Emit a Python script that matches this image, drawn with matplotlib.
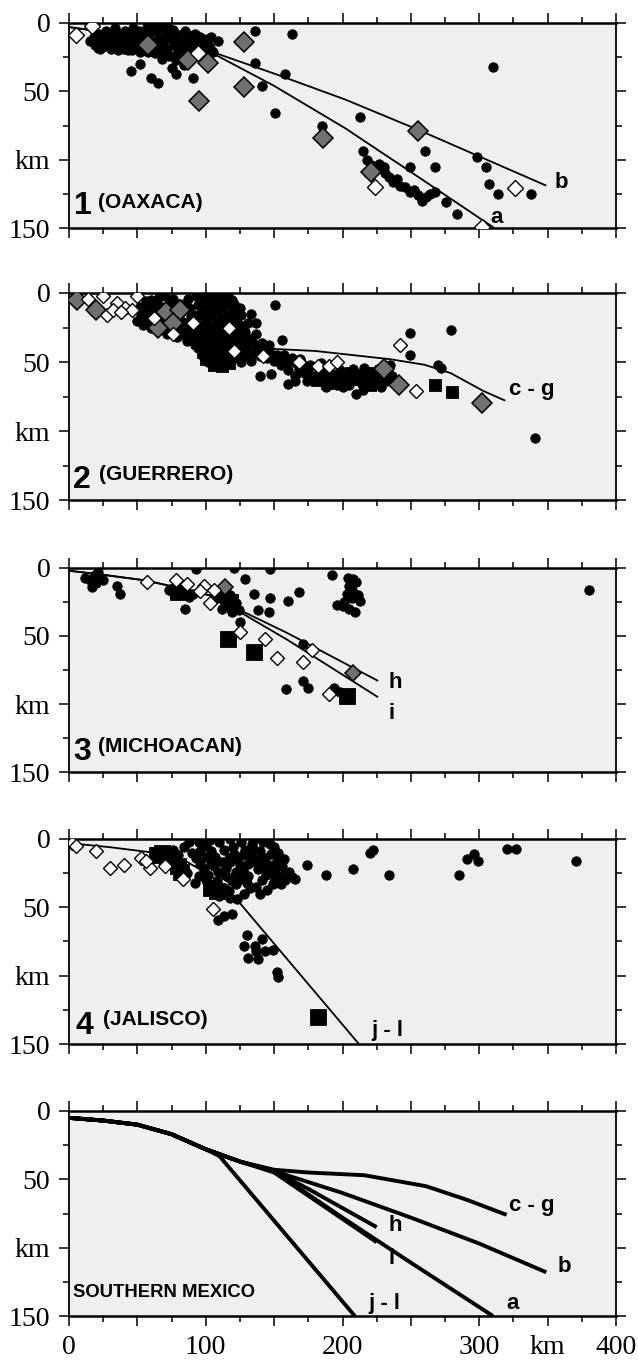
import matplotlib
matplotlib.use("Agg")
import matplotlib.pyplot as plt
from matplotlib.ticker import MultipleLocator, FixedLocator, FixedFormatter

# ---------------- DATA (km along profile, depth km) ----------------
# Panel 1 (OAXACA)
p1_dot_x = [15,18,20,22,24,26,28,30,32,33,35,37,39,40,42,44,46,48,50,51,53,55,57,58,60,62,63,65,66,68,69,71,72,74,76,77,79,80,82,83,85,86,88,89,90,92,93,95,97,99,101,103,78,84,70,88,64,56,46,36,67,72,
            19,23,27,31,34,38,41,43,47,49,52,54,58,61,63,67,70,73,75,81,84,87,91,94,96,100,102,105,
            21,45,52,60,65,68,75,78,91,104,109,136,136,141,158,163,151,185,213,215,218,221,224,227,230,231,234,237,240,242,246,249,252,255,258,261,264,268,249,260,268,219,276,284,298,305,307,314,338,310]
p1_dot_y = [13,10,15,8,12,17,10,14,7,18,11,15,8,19,12,16,9,13,18,6,11,15,3,9,13,0,6,17,10,3,14,8,19,12,5,16,22,9,13,18,6,25,11,15,21,8,17,13,19,15,12,18,27,31,22,28,20,20,20,20,0,2,
            16,19,6,19,4,13,6,20,4,16,21,9,21,16,22,20,5,24,11,24,15,9,14,19,10,21,15,21,
            18,35,30,40,44,26,33,37,40,10,13,6,29,46,37,8,66,75,69,94,100,104,107,103,105,110,113,116,114,119,120,124,122,126,130,127,125,124,105,94,105,110,131,140,98,105,118,125,125,32]
p1_gray_x = [58, 87, 102, 128, 128, 95, 186, 255, 221]
p1_gray_y = [16, 27, 29, 14, 47, 57, 84, 79, 109]
p1_open_x = [5, 17, 94, 224, 326, 302]
p1_open_y = [9, 2, 22, 120, 121, 149]
p1_a_x = [0, 50, 100, 150, 202, 250, 311]
p1_a_y = [3, 10, 19.5, 46, 77, 109, 150]
p1_b_x = [0, 50, 100, 150, 202, 255, 349]
p1_b_y = [3, 10, 19.5, 37, 56, 78, 119]

# Panel 2 (GUERRERO)
p2_dot_x = [50,53,55,57,58,60,62,63,65,66,68,69,71,72,74,75,77,78,79,81,82,83,85,86,87,88,89,90,91,92,60,66,70,76,
            52,56,59,61,64,67,70,73,76,80,84,87,90,92,94,88,82,74,68,
            93,94,95,96,97,98,99,100,101,102,103,104,105,106,107,108,109,110,111,112,113,114,115,116,117,118,119,120,121,122,123,124,125,126,121,124,119,110,116,
            94,98,102,96,100,104,107,111,114,97,101,105,109,113,117,121,125,100,123,126,
            127,129,130,132,134,135,137,138,140,141,143,145,146,148,150,152,154,157,160,163,166,169,131,128,133,126,
            126,137,151,156,158,140,148,160,165,54,133,249,279,249,272,341,
            170,175,178,183,186,190,194,198,202,206,210,214,218,222,226,230,233,210,196,188,174,165,160,155,150,205,225,235,270,
            172,180,192,200,215,228,236,168,176,184,208,216,224,232]
p2_dot_y = [20,16,22,12,18,25,8,14,20,27,10,16,23,30,6,12,18,25,32,8,14,21,28,35,4,11,17,24,31,38,5,3,2,4,
            10,6,13,20,9,14,18,11,21,26,10,22,15,28,36,33,30,27,24,
            2,9,16,23,0,6,13,20,27,3,10,17,24,0,7,14,21,4,11,18,25,32,8,15,22,29,5,12,19,26,33,16,23,30,40,44,48,1,0,
            40,46,50,34,38,44,48,44,50,12,17,6,10,2,5,8,11,3,38,42,
            35,28,40,33,44,37,30,41,46,36,42,47,38,44,49,45,48,45,50,47,51,48,22,46,49,50,
            16,22,9,34,47,60,59,66,64,23,15,29,27,45,54,105,
            50,55,60,56,61,57,62,56,60,64,58,66,62,58,55,60,56,73,67,68,64,60,56,52,48,67,66,52,52,
            58,62,65,68,70,68,60,55,52,51,55,54,62,64]
p2_sq_x = [97,103,108,113,117,100,106,112,118,98,104,110,115,120,108,113,118,101,96,
           181,189,195,200,212,220,226,218,206,185,268,280]
p2_sq_y = [36,40,44,48,51,48,52,53,45,43,32,36,40,36,28,24,30,25,30,
           63,65,60,64,62,67,63,58,58,58,67,72]
p2_gray_x = [6, 20, 65, 71, 81, 76, 230, 241, 302]
p2_gray_y = [5, 12, 25, 14, 12, 22, 55, 67, 80]
p2_open_x = [14,25,28,35,41,46,50,62,76,91,117,121,142,168,182,190,196,242,254,32,38]
p2_open_y = [4,2,16,7,11,12,2,18,30,22,25,42,46,50,53,53,50,38,71,12,14]
p2_cg_x = [138, 180, 235, 260, 279, 303, 319]
p2_cg_y = [40, 42, 48, 52, 58, 71, 78]

# Panel 3 (MICHOACAN)
p3_dot_x = [15,17,19,25,35,37,12,20,21,
            93,121,147,129,135,147,160,168,138,146,125,85,
            110,113,116,119,122,112,118,124,108,115,
            73,77,84,88,91,
            192,204,208,210,205,207,203,211,213,196,200,205,209,207,201,
            159,171,175,194,171,198,380]
p3_dot_y = [9,14,5,9,13,19,7,11,3,
            1,0,1,8,19,22,24,18,31,32,40,30,
            18,24,28,32,26,30,20,31,22,14,
            16,19,18,21,19,
            5,7,8,10,13,16,19,20,24,27,28,30,32,22,25,
            89,83,88,88,56,91,16]
p3_sq_x = [116, 135, 203, 118, 80]
p3_sq_y = [52, 62, 94, 25, 18]
p3_gray_x = [114, 208]
p3_gray_y = [14, 77]
p3_open_x = [57,78,86,99,103,125,143,152,171,178,190,96,106]
p3_open_y = [10,9,12,13,26,47,52,66,69,60,93,17,16]
p3_h_x = [0, 25, 55, 87, 110, 121, 160, 226]
p3_h_y = [2, 5, 9, 16, 22, 29, 48, 83]
p3_i_x = [0, 25, 55, 87, 110, 121, 160, 226]
p3_i_y = [2, 5, 9, 16, 22, 30, 53, 95]

# Panel 4 (JALISCO)
p4_dot_x = [76,80,84,88,90,93,96,99,102,98,104,107,110,112,115,118,120,121,123,125,127,126,129,131,133,134,136,138,140,141,143,144,146,148,149,151,152,154,156,158,160,163,145,140,137,130,122,117,113,108,105,110,118,123,128,100,95,92,86,82,150,135,116,103,
            95,100,106,113,117,122,127,131,135,139,142,147,151,155,158,161,165,157,153,147,142,132,125,119,114,109,104,100,96,118,
            109,113,119,130,136,141,128,131,138,143,149,152,153,137,
            174,188,208,220,222,234,285,291,296,299,320,327,371]
p4_dot_y = [8,12,6,2,10,14,18,22,26,5,9,13,2,17,21,0,6,11,15,19,23,2,8,27,13,4,17,22,9,30,14,26,19,11,33,23,16,28,20,25,28,28,37,40,35,32,33,38,36,31,34,42,43,44,40,30,27,32,25,20,6,0,28,1,
            2,13,20,8,14,24,12,18,8,15,20,24,29,33,30,24,29,15,10,4,2,36,29,31,26,24,18,4,9,17,
            59,56,55,70,78,73,78,87,88,82,81,97,101,82,
            19,26,22,10,8,26,26,15,11,16,7,7,16]
p4_sq_x = [64, 68, 72, 80, 82, 108, 104, 182]
p4_sq_y = [12, 10, 14, 20, 24, 38, 36, 130]
p4_open_x = [2, 5, 20, 30, 40, 53, 59, 70, 83, 105, 56]
p4_open_y = [3, 5, 9, 21, 19, 14, 21, 20, 29, 51, 16]
p4_jl_x = [0, 30, 62, 85, 104, 125, 212]
p4_jl_y = [3, 6, 10, 16, 27, 47, 150]

# Panel 5 (SOUTHERN MEXICO) – summary curves
p5_a_x = [0, 25, 50, 75, 100, 125, 150, 200, 250, 310]
p5_a_y = [5, 7, 10, 17, 28, 37, 44, 78, 111, 150]
p5_b_x = [0, 25, 50, 75, 100, 125, 150, 200, 250, 300, 349]
p5_b_y = [5, 7, 10, 17, 28, 37, 44, 60, 78, 97, 118]
p5_cg_x = [0, 25, 50, 75, 100, 125, 150, 175, 216, 261, 291, 320]
p5_cg_y = [5, 7, 10, 17, 28, 37, 43, 45, 47, 55, 65, 76]
p5_h_x = [0, 25, 50, 75, 100, 125, 150, 175, 225]
p5_h_y = [5, 7, 10, 17, 28, 37, 44, 57, 85]
p5_i_x = [0, 25, 50, 75, 100, 125, 150, 175, 225]
p5_i_y = [5, 7, 10, 17, 28, 37, 45, 62, 96]
p5_jl_x = [0, 25, 50, 75, 100, 110, 209]
p5_jl_y = [5, 7, 10, 17, 28, 33, 150]

x_tick_pos = [0, 50, 100, 150, 200, 250, 300, 350, 400]
x_tick_lab = ["0", "", "100", "", "200", "", "300", "km", "400"]
y_tick_pos = [0, 50, 100, 150]
y_tick_lab = ["0", "50", "km", "150"]

# ---------------- STYLE ----------------
BG = "#efefef"
GRAY = "#707070"
SERIF = "Liberation Serif"
SANS = "Liberation Sans"

fig = plt.figure(figsize=(6.38, 13.66), dpi=100)
left, width = 69/638, 547/638
tops = [23, 293, 568, 839, 1111]
heights = [205, 207, 204, 205, 205]
axes = []
for t, h in zip(tops, heights):
    ax = fig.add_axes([left, 1 - (t + h)/1366, width, h/1366])
    ax.set_facecolor(BG)
    ax.set_xlim(0, 400)
    ax.set_ylim(150, 0)
    ax.xaxis.set_major_locator(MultipleLocator(50))
    ax.xaxis.set_minor_locator(MultipleLocator(25))
    ax.yaxis.set_major_locator(FixedLocator(y_tick_pos))
    ax.yaxis.set_major_formatter(FixedFormatter(y_tick_lab))
    ax.yaxis.set_minor_locator(MultipleLocator(25))
    ax.tick_params(which="both", direction="out", top=True, right=True, width=1.1, color="black")
    ax.tick_params(which="major", length=7.5, pad=6)
    ax.tick_params(which="minor", length=4.5)
    ax.tick_params(axis="x", labelbottom=False)
    for lab in ax.get_yticklabels():
        lab.set_fontfamily(SERIF)
        lab.set_fontsize(20)
    for s in ["left", "right"]:
        ax.spines[s].set_linewidth(1.3)
    for s in ["top", "bottom"]:
        ax.spines[s].set_linewidth(1.8)
    axes.append(ax)

def dots(ax, x, y, ms=6.8):
    ax.plot(x, y, "o", ms=ms, mfc="black", mec="black", mew=0.6, ls="none", zorder=3)

def squares(ax, x, y, ms=9):
    ax.plot(x, y, "s", ms=ms, mfc="black", mec="black", mew=0.6, ls="none", zorder=4)

def gray_d(ax, x, y, ms=10.5):
    ax.plot(x, y, "D", ms=ms, mfc=GRAY, mec="black", mew=1.1, ls="none", zorder=5)

def open_d(ax, x, y, ms=7):
    ax.plot(x, y, "D", ms=ms, mfc="white", mec="black", mew=1.0, ls="none", zorder=6)

def curve(ax, x, y, lw=1.3):
    ax.plot(x, y, "-", color="black", lw=lw, zorder=2, solid_capstyle="butt")

def lab(ax, x, y, s, size=16, weight="bold", va="center"):
    ax.text(x, y, s, fontsize=size, fontfamily=SANS, fontweight=weight, ha="left", va=va, zorder=8)

# Panel 1
ax = axes[0]
curve(ax, p1_a_x, p1_a_y); curve(ax, p1_b_x, p1_b_y)
dots(ax, p1_dot_x, p1_dot_y)
gray_d(ax, p1_gray_x, p1_gray_y)
open_d(ax, p1_open_x, p1_open_y, ms=8)
lab(ax, 355, 117, "b"); lab(ax, 308, 142, "a")
lab(ax, 4, 140, "1", size=23, va="baseline")
lab(ax, 21, 135, "(OAXACA)", size=15, va="baseline")

# Panel 2
ax = axes[1]
curve(ax, p2_cg_x, p2_cg_y)
dots(ax, p2_dot_x, p2_dot_y)
squares(ax, p2_sq_x, p2_sq_y, ms=9)
gray_d(ax, p2_gray_x, p2_gray_y)
open_d(ax, p2_open_x, p2_open_y)
lab(ax, 322, 70, "c - g")
lab(ax, 3, 141, "2", size=23, va="baseline")
lab(ax, 22, 135.5, "(GUERRERO)", size=15, va="baseline")

# Panel 3
ax = axes[2]
curve(ax, p3_h_x, p3_h_y); curve(ax, p3_i_x, p3_i_y)
dots(ax, p3_dot_x, p3_dot_y)
squares(ax, p3_sq_x, p3_sq_y, ms=12)
gray_d(ax, p3_gray_x, p3_gray_y, ms=8.5)
open_d(ax, p3_open_x, p3_open_y)
lab(ax, 234, 84, "h"); lab(ax, 234, 107, "i")
lab(ax, 3, 141.5, "3", size=23, va="baseline")
lab(ax, 21.5, 135.5, "(MICHOACAN)", size=15, va="baseline")

# Panel 4
ax = axes[3]
curve(ax, p4_jl_x, p4_jl_y)
dots(ax, p4_dot_x, p4_dot_y)
squares(ax, p4_sq_x, p4_sq_y, ms=11)
open_d(ax, p4_open_x, p4_open_y)
lab(ax, 221, 140, "j - l")
lab(ax, 5, 143, "4", size=23, va="baseline")
lab(ax, 25, 136, "(JALISCO)", size=15, va="baseline")

# Panel 5
ax = axes[4]
for xs, ys in [(p5_a_x, p5_a_y), (p5_b_x, p5_b_y), (p5_cg_x, p5_cg_y),
               (p5_h_x, p5_h_y), (p5_i_x, p5_i_y), (p5_jl_x, p5_jl_y)]:
    curve(ax, xs, ys, lw=2.8)
lab(ax, 322, 69, "c - g"); lab(ax, 357, 114, "b"); lab(ax, 234, 84, "h")
lab(ax, 234, 108, "i"); lab(ax, 219, 141, "j - l"); lab(ax, 320, 141, "a")
lab(ax, 3, 136, "SOUTHERN MEXICO", size=13.3, va="baseline")
ax.tick_params(axis="x", labelbottom=True)
ax.xaxis.set_major_locator(FixedLocator(x_tick_pos))
ax.xaxis.set_major_formatter(FixedFormatter(x_tick_lab))
for l in ax.get_xticklabels():
    l.set_fontfamily(SERIF)
    l.set_fontsize(20)

fig.savefig("out.png", dpi=100)
